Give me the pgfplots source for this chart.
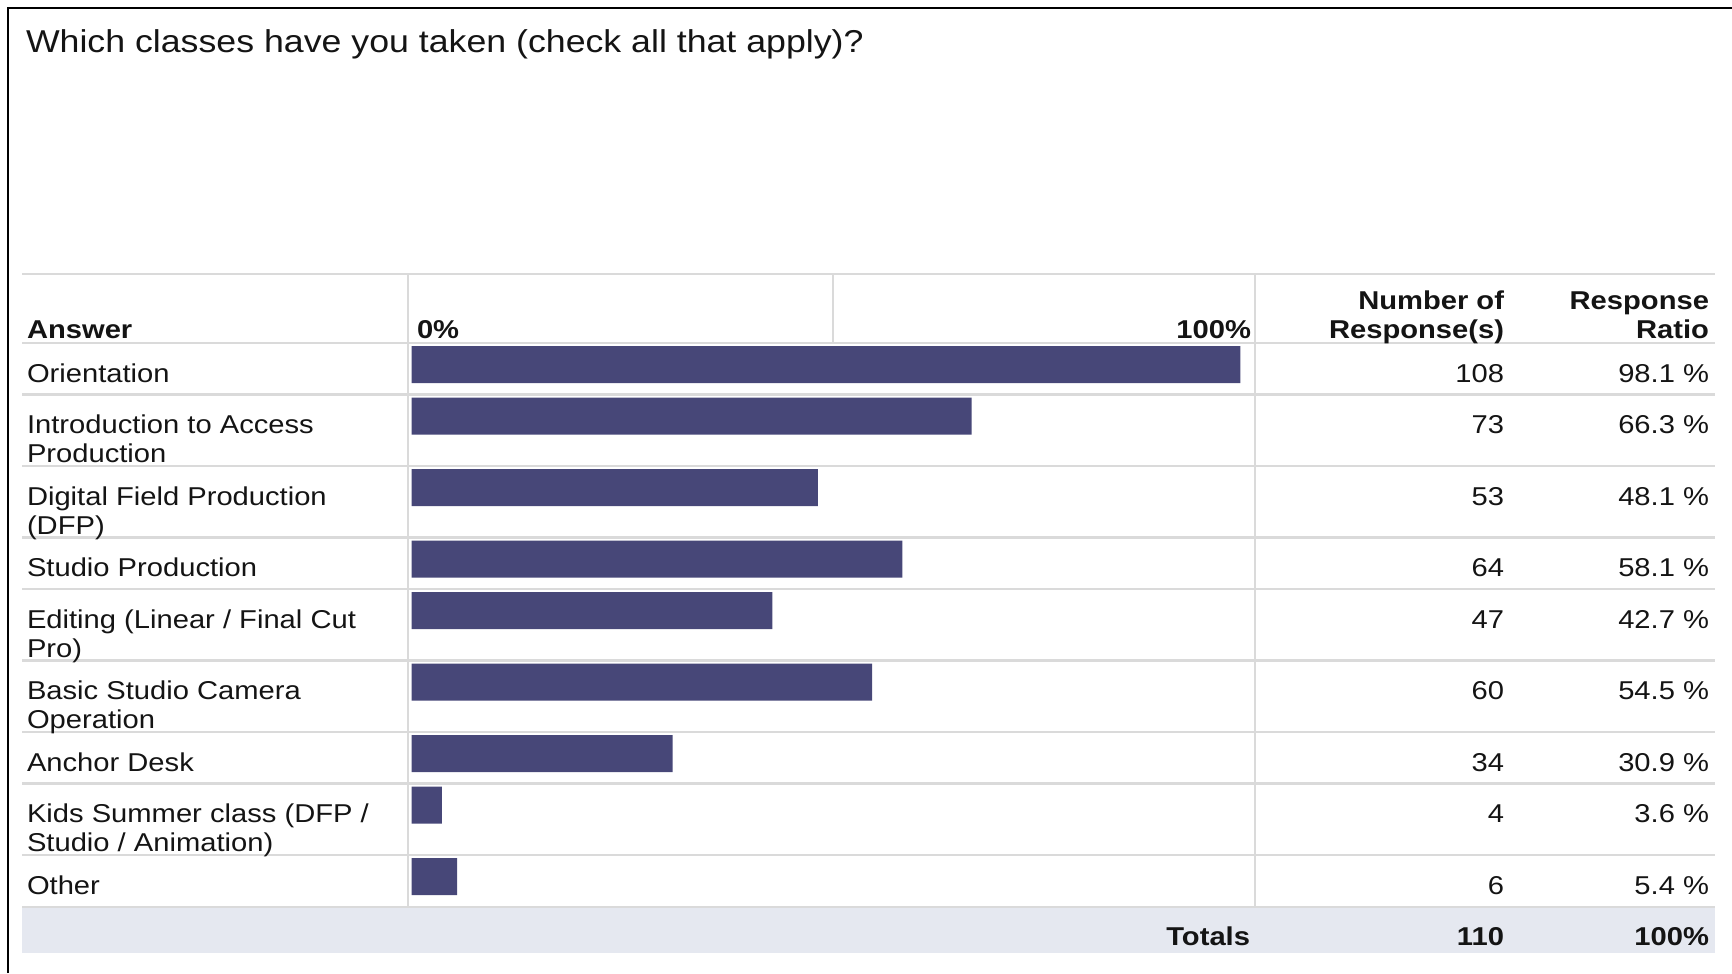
\documentclass[border=0pt]{standalone}
\usepackage{pgfplots}
\pgfplotsset{compat=1.18}
\usepackage{pgfplotstable}
\usepackage{fontspec}
\setmainfont{Liberation Sans}[FakeStretch=1.13]
\definecolor{barc}{RGB}{71,71,120}
\definecolor{gridc}{RGB}{218,218,218}
\definecolor{totbg}{RGB}{229,232,240}
\definecolor{txt}{RGB}{20,20,20}

% bar centre (pixel row position) and response ratio in percent
\pgfplotstableread{
ypos pct
364.5 98.1
416   66.3
487.5 48.1
559   58.1
610.5 42.7
682   54.5
753.5 30.9
805   3.6
876.5 5.4
}\bardata

\newcommand\bodyf{\fontsize{6.45pt}{7.25pt}\selectfont}
\newcommand\titlef{\fontsize{7.9pt}{9pt}\selectfont}

\begin{document}
\begin{tikzpicture}[x=0.25pt,y=-0.25pt, every node/.style={inner sep=0pt, outer sep=0pt, text=txt}]
\useasboundingbox (0,0) rectangle (1732,973);
\fill[totbg] (22,907) rectangle (1715,953);
\foreach \yy in {274,343,394.5,466,537.5,589,660.5,732,783.5,855,907}
  \draw[gridc, line width=0.7pt] (22,\yy) -- (1715,\yy);
\draw[gridc, line width=0.5pt] (408,274) -- (408,907);
\draw[gridc, line width=0.5pt] (1255,274) -- (1255,907);
\draw[gridc, line width=0.5pt] (833,274) -- (833,343);
\draw[black, line width=0.55pt] (8,973) -- (8,8) -- (1732,8);
\coordinate (barorigin) at (411.5,0);

\begin{axis}[at={(barorigin)}, anchor=north west, scale only axis,
  width=211.25pt, height=243.25pt,
  xmin=0, xmax=100, ymin=0, ymax=973, y dir=reverse,
  hide axis, clip=false, xbar, bar width=37, bar shift=0pt]
\addplot[draw=none, fill=barc] table[x=pct, y=ypos] {\bardata};
\end{axis}

\node[anchor=base west, font=\titlef] at (26,53) {Which classes have you taken (check all that apply)?};

% header
\node[anchor=base west, font=\bodyf\bfseries] at (27,338) {Answer};
\node[anchor=base west, font=\bodyf\bfseries] at (417,338) {0\%};
\node[anchor=base east, font=\bodyf\bfseries] at (1251,338) {100\%};
\node[anchor=base east, font=\bodyf\bfseries] at (1504,309) {Number of};
\node[anchor=base east, font=\bodyf\bfseries] at (1504,338) {Response(s)};
\node[anchor=base east, font=\bodyf\bfseries] at (1709,309) {Response};
\node[anchor=base east, font=\bodyf\bfseries] at (1709,338) {Ratio};

% labels
\begin{scope}[every node/.append style={anchor=base west, font=\bodyf}]
\node at (27,382) {Orientation};
\node at (27,433.5) {Introduction to Access};
\node at (27,462.5) {Production};
\node at (27,505) {Digital Field Production};
\node at (27,534) {(DFP)};
\node at (27,576.5) {Studio Production};
\node at (27,628) {Editing (Linear / Final Cut};
\node at (27,657) {Pro)};
\node at (27,699.5) {Basic Studio Camera};
\node at (27,728.5) {Operation};
\node at (27,771) {Anchor Desk};
\node at (27,822.5) {Kids Summer class (DFP /};
\node at (27,851.5) {Studio / Animation)};
\node at (27,894) {Other};
\end{scope}

% counts and ratios
\begin{scope}[every node/.append style={anchor=base east, font=\bodyf}]
\node at (1504,382) {108};   \node at (1709,382) {98.1 \%};
\node at (1504,433.5) {73};  \node at (1709,433.5) {66.3 \%};
\node at (1504,505) {53};    \node at (1709,505) {48.1 \%};
\node at (1504,576.5) {64};  \node at (1709,576.5) {58.1 \%};
\node at (1504,628) {47};    \node at (1709,628) {42.7 \%};
\node at (1504,699.5) {60};  \node at (1709,699.5) {54.5 \%};
\node at (1504,771) {34};    \node at (1709,771) {30.9 \%};
\node at (1504,822.5) {4};   \node at (1709,822.5) {3.6 \%};
\node at (1504,894) {6};     \node at (1709,894) {5.4 \%};
\end{scope}

% totals
\node[anchor=base east, font=\bodyf\bfseries] at (1250,945) {Totals};
\node[anchor=base east, font=\bodyf\bfseries] at (1504,945) {110};
\node[anchor=base east, font=\bodyf\bfseries] at (1709,945) {100\%};
\end{tikzpicture}
\end{document}
